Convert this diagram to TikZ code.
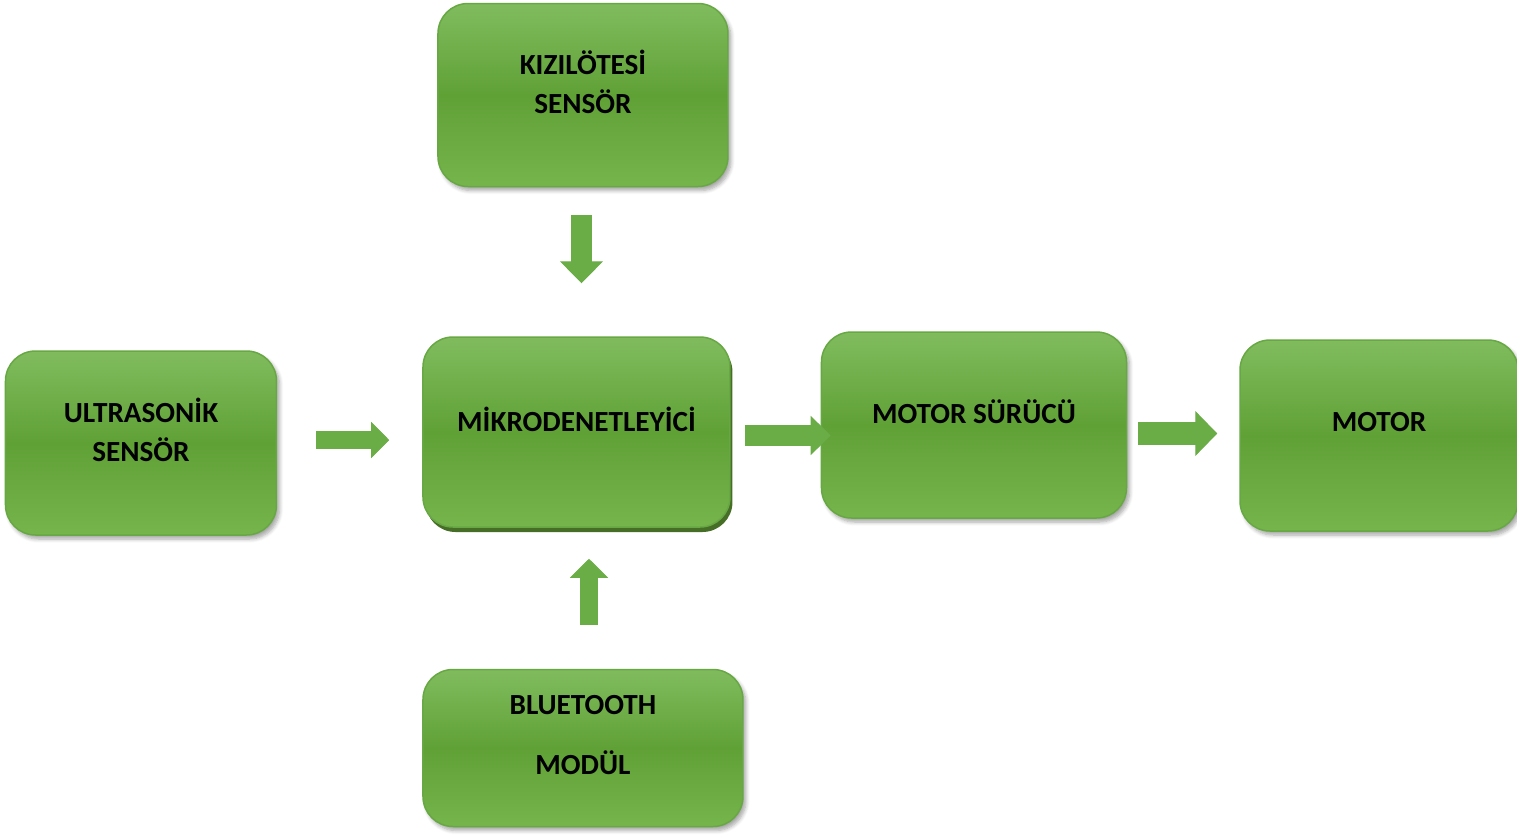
\documentclass[tikz,border=0pt]{standalone}
\usepackage{fontspec}
\setmainfont{Carlito}
\usetikzlibrary{positioning,shadows,shadows.blur,arrows.meta}

\definecolor{boxtop}{RGB}{128,188,94}
\definecolor{boxmid}{RGB}{96,161,54}
\definecolor{boxbot}{RGB}{118,180,76}
\definecolor{boxline}{RGB}{104,168,68}
\definecolor{flowgreen}{RGB}{106,172,70}
\definecolor{mcshadow}{RGB}{70,110,38}

\tikzset{
  block/.style={rounded corners=15pt,draw=boxline,line width=0.75pt,inner sep=0pt,
    top color=boxtop,bottom color=boxbot,middle color=boxmid},
  softshadow/.style={blur shadow={shadow xshift=1.5pt,shadow yshift=-2pt,
    shadow blur steps=6,shadow opacity=35}},
  hardshadow/.style={drop shadow={shadow xshift=1.25pt,shadow yshift=-2.5pt,
    fill=mcshadow,opacity=1}},
  blocktext/.style={font=\fontsize{14.6}{19.5}\selectfont\bfseries,align=center,yshift=6.5pt},
  flow/.style n args={3}{draw=flowgreen,line width=#1,
    -{Triangle[length=#2,width=#3,line width=0.6pt]}}
}

\begin{document}
\begin{tikzpicture}[node distance=72.5pt]
    \useasboundingbox (-288.25pt,-202.5pt) rectangle (470.25pt,216pt);
    \node[block,hardshadow,minimum width=153.5pt,minimum height=95pt,
      label={[blocktext]center:MİKRODENETLEYİCİ}] (mc) at (0,0) {};
    \node[block,softshadow,minimum width=135.5pt,minimum height=92pt,
      left=72.5pt of mc,yshift=-5.5pt,
      label={[blocktext]center:ULTRASONİK\\SENSÖR}] (us) {};
    \node[block,softshadow,minimum width=145pt,minimum height=91.5pt,
      above=74.5pt of mc,xshift=3.25pt,
      label={[blocktext]center:KIZILÖTESİ\\SENSÖR}] (kz) {};
    \node[block,softshadow,minimum width=160pt,minimum height=78.5pt,
      below=70.5pt of mc,xshift=3.25pt,
      label={[blocktext]center:BLUETOOTH\\[10.5pt]MODÜL}] (bt) {};
    \node[block,softshadow,minimum width=152.5pt,minimum height=93pt,
      right=45pt of mc,yshift=3.5pt,
      label={[blocktext]center:MOTOR SÜRÜCÜ}] (ms) {};
    \node[block,softshadow,minimum width=139pt,minimum height=95.5pt,
      right=56pt of ms,yshift=-5.25pt,
      label={[blocktext]center:MOTOR}] (mt) {};
    \draw[flow={9pt}{9pt}{18pt},shorten <=19.5pt,shorten >=16.5pt]
      ([yshift=1.5pt]us.east) -- ([yshift=-4pt]mc.west);
    \draw[flow={10.5pt}{11pt}{21.5pt},shorten <=14pt,shorten >=26.5pt]
      ([xshift=-0.75pt]kz.south) -- ([xshift=2.5pt]mc.north);
    \draw[flow={9pt}{9.5pt}{19pt},shorten <=22pt,shorten >=15.5pt]
      ([xshift=3pt]bt.north) -- ([xshift=6.25pt]mc.south);
    \draw[flow={10.5pt}{10pt}{19.5pt},shorten <=7pt,shorten >=-5pt]
      ([yshift=-1.75pt]mc.east) -- ([yshift=-5.25pt]ms.west);
    \draw[flow={11.5pt}{11pt}{22.5pt},shorten <=5.5pt,shorten >=11pt]
      ([yshift=-4.25pt]ms.east) -- ([yshift=1pt]mt.west);
  \end{tikzpicture}
\end{document}
